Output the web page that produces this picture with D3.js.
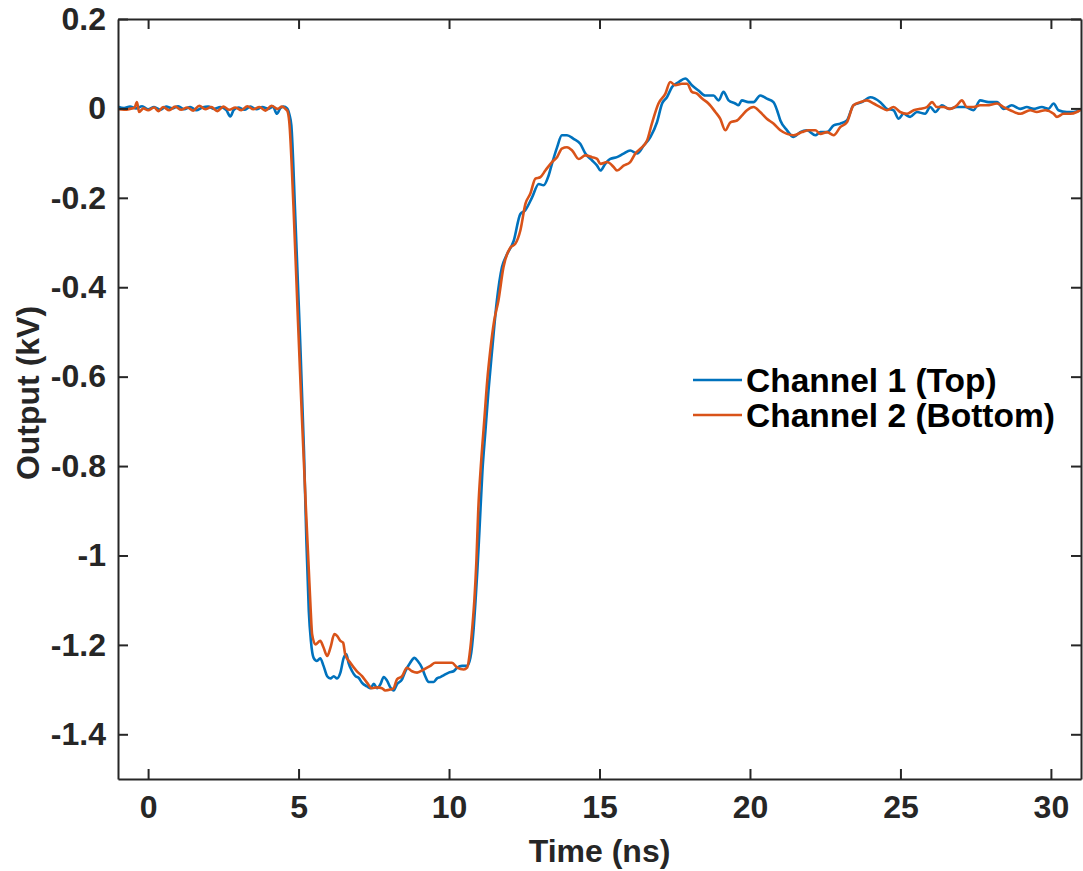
<!DOCTYPE html>
<html>
<head>
<meta charset="utf-8">
<script src="https://cdn.jsdelivr.net/npm/d3@7"></script>
<style>
  html, body { margin: 0; padding: 0; background: #fff; }
  svg { display: block; }
  text { font-family: "Liberation Sans", Arial, Helvetica, sans-serif; font-weight: bold; fill: #262626; }
</style>
</head>
<body>
<svg id="chart" width="1083" height="871"></svg>
<script>
// ---------- data (time in ns, output in kV) ----------
const xTicks = [0, 5, 10, 15, 20, 25, 30];
const yTicks = [0.2, 0, -0.2, -0.4, -0.6, -0.8, -1, -1.2, -1.4];
const seriesNames = ["Channel 1 (Top)", "Channel 2 (Bottom)"];
const seriesColors = ["#0072BD", "#D95319"];

const channel1 = [
  [-1.0,0.004],[-0.8,0.001],[-0.6,0.004],[-0.4,0.000],[-0.2,0.005],[0.0,-0.002],[0.2,0.003],[0.4,-0.003],
  [0.6,0.004],[0.8,0.000],[1.0,0.005],[1.2,-0.002],[1.4,0.003],[1.6,-0.004],[1.8,0.002],[2.0,0.004],
  [2.2,-0.001],[2.4,0.003],[2.6,-0.004],[2.73,-0.018],[2.85,-0.003],[3.0,0.002],[3.2,-0.003],[3.4,0.004],
  [3.6,-0.002],[3.8,0.003],[4.0,-0.001],[4.15,0.004],[4.28,-0.012],[4.4,0.001],[4.5,0.004],[4.62,0.000],
  [4.7,-0.015],[4.76,-0.038],[4.89,-0.240],[5.04,-0.497],[5.18,-0.766],[5.26,-0.968],[5.34,-1.124],
  [5.41,-1.191],[5.50,-1.229],[5.61,-1.236],[5.72,-1.230],[5.83,-1.247],[5.95,-1.270],[6.06,-1.275],
  [6.17,-1.270],[6.28,-1.275],[6.39,-1.262],[6.50,-1.229],[6.59,-1.221],[6.66,-1.240],[6.78,-1.259],
  [6.89,-1.270],[7.00,-1.274],[7.11,-1.285],[7.28,-1.293],[7.39,-1.297],[7.50,-1.287],[7.61,-1.297],
  [7.72,-1.288],[7.83,-1.272],[7.94,-1.280],[8.05,-1.295],[8.16,-1.302],[8.27,-1.288],[8.44,-1.277],
  [8.55,-1.259],[8.71,-1.240],[8.85,-1.229],[8.96,-1.236],[9.10,-1.251],[9.21,-1.270],[9.32,-1.283],
  [9.49,-1.283],[9.60,-1.275],[9.71,-1.272],[9.82,-1.268],[9.99,-1.262],[10.15,-1.259],[10.27,-1.251],
  [10.43,-1.247],[10.60,-1.247],[10.71,-1.229],[10.82,-1.162],[10.88,-1.102],[10.94,-1.035],[11.01,-0.945],
  [11.11,-0.811],[11.21,-0.721],[11.31,-0.632],[11.43,-0.542],[11.59,-0.430],[11.76,-0.355],[11.90,-0.330],
  [12.15,-0.296],[12.37,-0.236],[12.53,-0.228],[12.76,-0.199],[12.98,-0.169],[13.14,-0.172],[13.31,-0.150],
  [13.42,-0.124],[13.59,-0.087],[13.75,-0.060],[13.92,-0.060],[14.14,-0.068],[14.36,-0.079],[14.53,-0.101],
  [14.75,-0.116],[14.92,-0.128],[15.03,-0.139],[15.19,-0.124],[15.36,-0.113],[15.58,-0.109],[15.80,-0.101],
  [16.02,-0.094],[16.25,-0.101],[16.47,-0.083],[16.69,-0.064],[16.91,-0.031],[17.08,0.011],[17.24,0.025],
  [17.41,0.048],[17.63,0.059],[17.85,0.067],[18.07,0.052],[18.29,0.040],[18.51,0.029],[18.79,0.029],
  [18.96,0.018],[19.12,0.037],[19.29,0.018],[19.51,0.011],[19.62,0.007],[19.73,0.018],[19.95,0.014],
  [20.12,0.014],[20.34,0.029],[20.56,0.022],[20.78,0.014],[20.90,-0.004],[21.01,-0.027],[21.23,-0.049],
  [21.45,-0.064],[21.67,-0.053],[21.89,-0.049],[22.17,-0.060],[22.34,-0.053],[22.56,-0.053],[22.78,-0.038],
  [23.00,-0.034],[23.22,-0.027],[23.44,0.007],[23.72,0.014],[24.00,0.025],[24.33,0.014],[24.55,-0.001],
  [24.77,-0.004],[24.94,-0.023],[25.10,-0.012],[25.32,-0.019],[25.55,-0.008],[25.82,-0.012],[25.99,0.003],
  [26.16,-0.008],[26.38,0.007],[26.60,-0.001],[26.88,0.003],[27.15,0.003],[27.43,-0.004],[27.65,0.018],
  [27.93,0.014],[28.21,0.014],[28.43,-0.001],[28.70,0.007],[28.98,-0.001],[29.20,0.003],[29.42,-0.001],
  [29.70,0.003],[29.92,-0.001],[30.09,0.011],[30.25,-0.004],[30.53,-0.008],[30.75,-0.008],[30.97,-0.004]
];

const channel2 = [
  [-1.0,-0.002],[-0.8,-0.003],[-0.6,-0.001],[-0.45,0.002],[-0.37,0.014],[-0.3,-0.008],[-0.15,0.000],
  [0.0,-0.004],[0.2,0.002],[0.35,-0.006],[0.5,0.003],[0.7,-0.004],[0.9,0.004],[1.1,-0.003],[1.3,0.002],
  [1.5,-0.005],[1.7,0.006],[1.9,-0.002],[2.1,0.003],[2.3,-0.006],[2.5,0.004],[2.7,-0.003],[2.9,0.002],
  [3.1,-0.004],[3.3,0.005],[3.5,-0.002],[3.7,0.003],[3.9,-0.005],[4.1,0.006],[4.3,-0.001],[4.45,0.004],
  [4.58,-0.002],[4.63,-0.006],[4.69,-0.029],[4.83,-0.217],[4.98,-0.475],[5.11,-0.689],[5.25,-0.903],
  [5.34,-1.032],[5.40,-1.118],[5.45,-1.176],[5.56,-1.199],[5.72,-1.191],[5.83,-1.206],[5.95,-1.225],
  [6.06,-1.206],[6.19,-1.176],[6.28,-1.180],[6.39,-1.191],[6.48,-1.195],[6.55,-1.221],[6.72,-1.240],
  [6.94,-1.259],[7.11,-1.270],[7.28,-1.285],[7.44,-1.297],[7.61,-1.295],[7.77,-1.297],[7.88,-1.302],
  [8.05,-1.300],[8.16,-1.297],[8.27,-1.277],[8.44,-1.270],[8.60,-1.251],[8.77,-1.259],[8.94,-1.262],
  [9.16,-1.255],[9.38,-1.247],[9.54,-1.240],[9.82,-1.240],[10.10,-1.240],[10.27,-1.251],[10.49,-1.255],
  [10.60,-1.251],[10.71,-1.206],[10.80,-1.139],[10.84,-1.102],[10.91,-1.012],[10.97,-0.900],[11.07,-0.788],
  [11.17,-0.699],[11.27,-0.609],[11.37,-0.542],[11.50,-0.475],[11.64,-0.430],[11.81,-0.355],[12.04,-0.311],
  [12.20,-0.303],[12.37,-0.273],[12.54,-0.213],[12.70,-0.191],[12.87,-0.157],[13.03,-0.154],[13.20,-0.139],
  [13.42,-0.120],[13.59,-0.109],[13.75,-0.090],[13.92,-0.087],[14.09,-0.094],[14.31,-0.113],[14.53,-0.105],
  [14.75,-0.109],[14.92,-0.113],[15.03,-0.124],[15.25,-0.120],[15.47,-0.131],[15.58,-0.139],[15.80,-0.128],
  [16.02,-0.120],[16.20,-0.100],[16.36,-0.090],[16.58,-0.072],[16.74,-0.034],[16.96,0.011],[17.19,0.033],
  [17.35,0.059],[17.52,0.052],[17.74,0.055],[17.91,0.055],[18.07,0.037],[18.24,0.033],[18.41,0.022],
  [18.62,0.011],[18.85,-0.008],[19.01,-0.023],[19.18,-0.049],[19.35,-0.031],[19.57,-0.027],[19.73,-0.016],
  [19.90,-0.004],[20.12,0.003],[20.34,-0.008],[20.56,-0.023],[20.78,-0.034],[21.01,-0.049],[21.23,-0.057],
  [21.45,-0.060],[21.73,-0.053],[21.95,-0.049],[22.17,-0.049],[22.34,-0.057],[22.56,-0.053],[22.78,-0.060],
  [23.00,-0.042],[23.22,-0.031],[23.44,0.007],[23.66,0.014],[23.89,0.018],[24.11,0.011],[24.33,0.003],
  [24.55,-0.004],[24.77,0.003],[24.99,-0.008],[25.22,-0.012],[25.44,-0.004],[25.66,-0.001],[25.88,0.003],
  [26.05,0.014],[26.21,0.003],[26.43,0.003],[26.65,-0.001],[26.88,0.007],[27.04,0.018],[27.21,0.003],
  [27.43,0.003],[27.65,0.007],[27.87,0.007],[28.21,0.011],[28.43,0.003],[28.65,-0.004],[28.98,-0.012],
  [29.31,-0.004],[29.53,-0.008],[29.81,-0.004],[30.09,-0.012],[30.20,-0.019],[30.42,-0.012],[30.64,-0.012],
  [30.86,-0.008],[31.0,-0.002]
];

const xDomain = [-1, 31];
const yDomain = [-1.5, 0.2];

// ---------- layout ----------
const W = 1083, H = 871;
const margin = { left: 118, right: 2, top: 19, bottom: 92 };
const iw = W - margin.left - margin.right;
const ih = H - margin.top - margin.bottom;
const axisColor = "#262626";
const fontSize = 32;
const legendFontSize = 33.5;

const svg = d3.select("#chart");
const g = svg.append("g").attr("transform", `translate(${margin.left},${margin.top})`);

const x = d3.scaleLinear().domain(xDomain).range([0, iw]);
const y = d3.scaleLinear().domain(yDomain).range([ih, 0]);

svg.append("defs").append("clipPath").attr("id", "clip")
  .append("rect").attr("width", iw).attr("height", ih);

const line = d3.line().x(d => x(d[0])).y(d => y(d[1])).curve(d3.curveMonotoneX);
const plot = g.append("g").attr("clip-path", "url(#clip)");
[channel1, channel2].forEach((data, i) => {
  plot.append("path").datum(data)
    .attr("fill", "none")
    .attr("stroke", seriesColors[i])
    .attr("stroke-width", 2.6)
    .attr("stroke-linejoin", "round")
    .attr("d", line);
});

const tickLen = 10;
function styleAxis(sel) {
  sel.select(".domain").attr("stroke", axisColor).attr("stroke-width", 2);
  sel.selectAll(".tick line").attr("stroke", axisColor).attr("stroke-width", 2);
  sel.selectAll(".tick text").style("font-size", fontSize + "px").attr("fill", axisColor);
}
const fmtY = d => String(Math.round(d * 10) / 10);

const xAxisB = g.append("g").attr("transform", `translate(0,${ih})`)
  .call(d3.axisBottom(x).tickValues(xTicks).tickSizeInner(-tickLen).tickSizeOuter(0).tickPadding(16).tickFormat(d => String(d)));
styleAxis(xAxisB);
const xAxisT = g.append("g")
  .call(d3.axisTop(x).tickValues(xTicks).tickSizeInner(-tickLen).tickSizeOuter(0).tickFormat(""));
styleAxis(xAxisT);
const yAxisL = g.append("g")
  .call(d3.axisLeft(y).tickValues(yTicks).tickSizeInner(-tickLen).tickSizeOuter(0).tickPadding(12).tickFormat(fmtY));
styleAxis(yAxisL);
const yAxisR = g.append("g").attr("transform", `translate(${iw},0)`)
  .call(d3.axisRight(y).tickValues(yTicks).tickSizeInner(-tickLen).tickSizeOuter(0).tickFormat(""));
styleAxis(yAxisR);

g.append("text")
  .attr("x", iw / 2).attr("y", ih + 83)
  .attr("text-anchor", "middle")
  .style("font-size", fontSize + "px")
  .text("Time (ns)");
g.append("text")
  .attr("transform", `translate(${28 - margin.left},${ih / 2 - 6}) rotate(-90)`)
  .attr("text-anchor", "middle")
  .attr("dominant-baseline", "central")
  .style("font-size", fontSize + "px")
  .text("Output (kV)");

const legend = svg.append("g").attr("transform", "translate(693,380)");
seriesNames.forEach((name, i) => {
  const row = legend.append("g").attr("transform", `translate(0,${i * 35})`);
  row.append("line").attr("x1", 0).attr("x2", 49).attr("y1", 0).attr("y2", 0)
    .attr("stroke", seriesColors[i]).attr("stroke-width", 2.6);
  row.append("text").attr("x", 53).attr("y", 0)
    .attr("dominant-baseline", "central")
    .style("font-size", legendFontSize + "px")
    .style("fill", "#000")
    .text(name);
});
</script>
</body>
</html>
